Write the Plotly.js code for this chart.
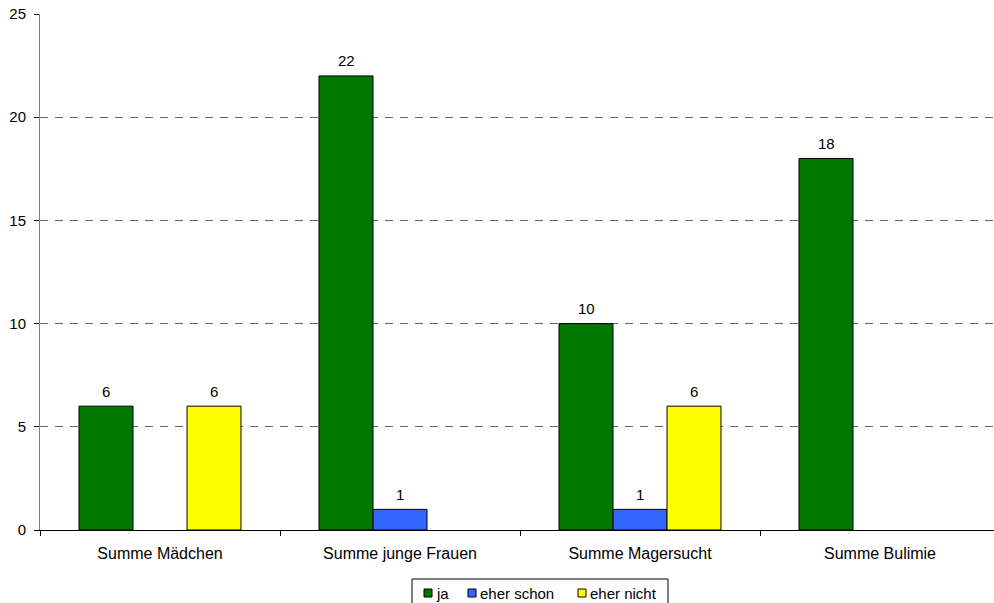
<!DOCTYPE html>
<html>
<head>
<meta charset="utf-8">
<script src="https://cdn.plot.ly/plotly-3.0.1.min.js"></script>
<style>
  html, body { margin: 0; padding: 0; background: #fff; }
  #chart { width: 994px; height: 603px; }
</style>
</head>
<body>
<div id="chart"></div>
<script>
// Survey categories and answer counts
const categories = ["Summe Mädchen", "Summe junge Frauen", "Summe Magersucht", "Summe Bulimie"];
const seriesNames = ["ja", "eher schon", "eher nicht"];
const jaValues = [6, 22, 10, 18];
const eherSchonValues = [null, 1, 1, null];
const eherNichtValues = [6, null, 6, null];
const seriesColors = ["#007800", "#3366ff", "#ffff00"];
const yTicks = [0, 5, 10, 15, 20, 25];

const allSeries = [jaValues, eherSchonValues, eherNichtValues];

const font = "Liberation Sans, Arial, sans-serif";
const W = 994, H = 603;
const M = { l: 40, r: 0, t: 14, b: 73 };
const BARGAP = 0.325;

const data = allSeries.map((values, k) => ({
  type: "bar",
  name: seriesNames[k],
  x: categories,
  y: values,
  marker: { color: seriesColors[k], line: { color: "#000", width: 1 } },
  showlegend: false,
  hoverinfo: "x+y+name"
}));

// Value labels above each bar, placed on the category axis at the bar's group offset
const barWidth = (1 - BARGAP) / allSeries.length;
const annotations = [];
allSeries.forEach((values, k) => {
  values.forEach((v, i) => {
    if (v === null) return;
    annotations.push({
      xref: "x", yref: "y",
      x: i + (k - (allSeries.length - 1) / 2) * barWidth,
      y: v,
      text: String(v),
      showarrow: false,
      yanchor: "middle",
      yshift: 15,
      font: { family: font, size: 15, color: "#000" }
    });
  });
});

// Legend box below the plot: colour squares followed by series names
const plotW = W - M.l - M.r, plotH = H - M.t - M.b;
const px2x = px => (px - M.l) / plotW;
const px2y = py => (H - M.b - py) / plotH;
const legendBox = { x0: 412, x1: 668, y0: 579, y1: 606 };
const legendItemX = [424, 468, 578];
const legendMidY = 593;
const sq = 8;

const shapes = [{
  type: "rect", xref: "paper", yref: "paper",
  x0: px2x(legendBox.x0), x1: px2x(legendBox.x1),
  y0: px2y(legendBox.y1), y1: px2y(legendBox.y0),
  line: { color: "#000", width: 1 }, fillcolor: "#fff", layer: "above"
}];
seriesNames.forEach((name, k) => {
  const sx = legendItemX[k];
  shapes.push({
    type: "rect", xref: "paper", yref: "paper",
    x0: px2x(sx), x1: px2x(sx + sq),
    y0: px2y(legendMidY + sq / 2), y1: px2y(legendMidY - sq / 2),
    line: { color: "#000", width: 1 }, fillcolor: seriesColors[k], layer: "above"
  });
  annotations.push({
    xref: "paper", yref: "paper",
    x: px2x(sx + sq + 2), y: px2y(legendMidY),
    xanchor: "left", yanchor: "middle",
    text: name, showarrow: false,
    font: { family: font, size: 15, color: "#000" }
  });
});

const layout = {
  width: W,
  height: H,
  margin: { l: M.l, r: M.r, t: M.t, b: M.b, pad: 0, autoexpand: false },
  paper_bgcolor: "#fff",
  plot_bgcolor: "#fff",
  barmode: "group",
  bargap: BARGAP,
  bargroupgap: 0,
  showlegend: false,
  font: { family: font, size: 15, color: "#000" },
  xaxis: {
    type: "category",
    range: [-0.5, 3.5 - 6 / 240],
    showline: true,
    linecolor: "#000",
    linewidth: 1,
    ticks: "outside",
    tickson: "boundaries",
    ticklen: 5,
    tickcolor: "#000",
    ticklabelstandoff: 9,
    showgrid: false,
    tickfont: { family: font, size: 16, color: "#000" },
    fixedrange: true
  },
  yaxis: {
    range: [0, 25],
    tickvals: yTicks,
    ticktext: yTicks.map(String),
    showline: true,
    linecolor: "#808080",
    linewidth: 1,
    ticks: "outside",
    ticklen: 5,
    tickcolor: "#000",
    ticklabelstandoff: 5,
    showgrid: true,
    gridcolor: "#666",
    gridwidth: 1,
    griddash: "8px,7px",
    zeroline: false,
    tickfont: { family: font, size: 15, color: "#000" },
    fixedrange: true
  },
  annotations: annotations,
  shapes: shapes
};

Plotly.newPlot("chart", data, layout, { staticPlot: true });
</script>
</body>
</html>
